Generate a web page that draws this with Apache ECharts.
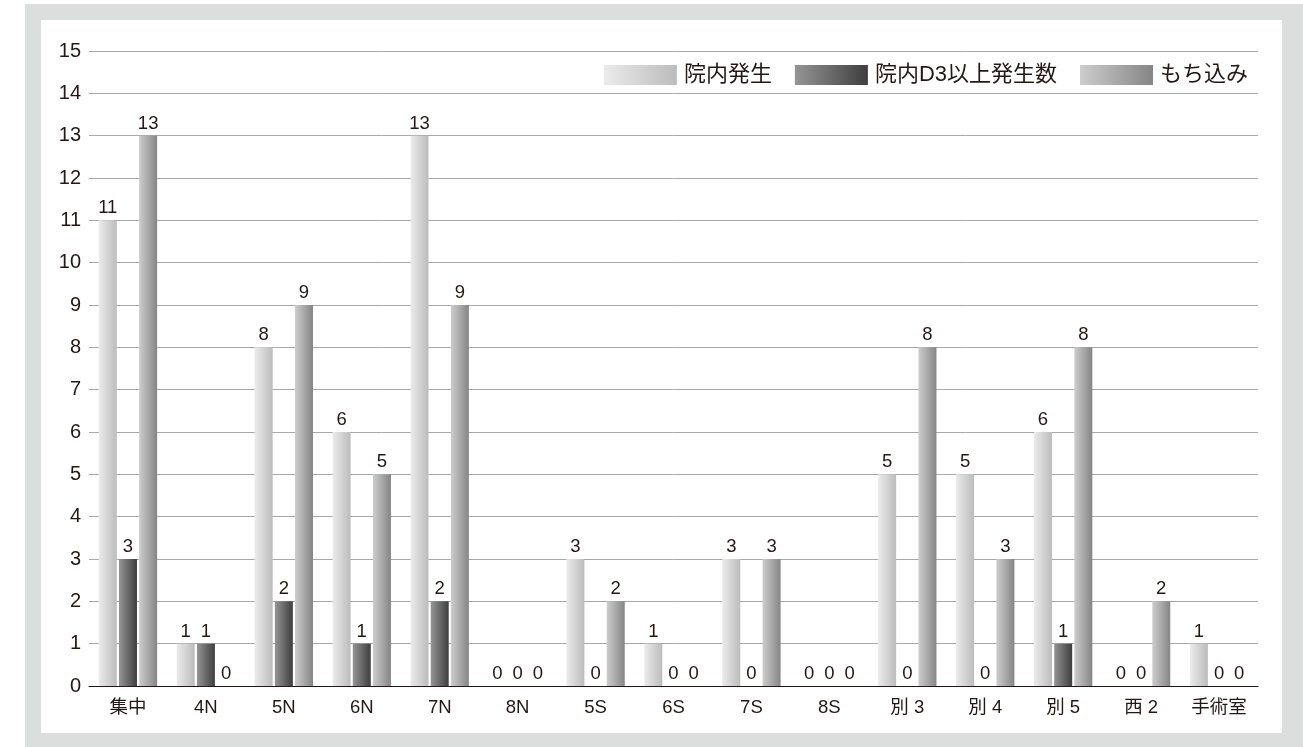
<!DOCTYPE html>
<html>
<head>
<meta charset="utf-8">
<script src="https://cdn.jsdelivr.net/npm/echarts@6/dist/echarts.min.js"></script>
<style>
  html, body { margin: 0; padding: 0; background: #ffffff; }
  #frame { position: absolute; left: 25px; top: 4px; width: 1278px; height: 743px; background: #dcdddd; }
  #panel { position: absolute; left: 16px; top: 16px; width: 1241px; height: 713px; background: #ffffff; }
  #chart { position: absolute; left: 0; top: 0; width: 1303px; height: 747px; }
</style>
</head>
<body>
<div id="frame"><div id="panel"></div></div>
<div id="chart"></div>
<script>
// Wards (x-axis categories)
const categories = ['集中', '4N', '5N', '6N', '7N', '8N', '5S', '6S', '7S', '8S', '別 3', '別 4', '別 5', '西 2', '手術室'];
// Counts per ward
const inHospital = [11, 1, 8, 6, 13, 0, 3, 1, 3, 0, 5, 5, 6, 0, 1];
const inHospitalD3 = [3, 1, 2, 1, 2, 0, 0, 0, 0, 0, 0, 0, 1, 0, 0];
const broughtIn = [13, 0, 9, 5, 9, 0, 2, 0, 3, 0, 8, 3, 8, 2, 0];
const seriesNames = ['院内発生', '院内D3以上発生数', 'もち込み'];
const yTicks = { min: 0, max: 15, interval: 1 };

const textColor = '#231815';
const fontFamily = "'Liberation Sans', 'Noto Sans CJK JP', sans-serif";

function hGrad(from, to) {
  return new echarts.graphic.LinearGradient(0, 0, 1, 0, [
    { offset: 0, color: from },
    { offset: 1, color: to }
  ]);
}

const fills = [
  hGrad('#ebebeb', '#bcbcbc'),
  hGrad('#959595', '#3e3e3e'),
  hGrad('#cdcdcd', '#858585')
];

const chart = echarts.init(document.getElementById('chart'), null, { renderer: 'canvas' });

const valueLabel = {
  show: true,
  position: 'top',
  distance: 3,
  color: textColor,
  fontSize: 18.5,
  fontFamily: fontFamily
};

function makeSeries(name, data, fill) {
  return {
    name: name,
    type: 'bar',
    data: data,
    barWidth: 18,
    barGap: '12%',
    itemStyle: { color: fill },
    label: valueLabel,
    emphasis: { disabled: true }
  };
}

chart.setOption({
  animation: false,
  backgroundColor: 'transparent',
  textStyle: { fontFamily: fontFamily, color: textColor },
  legend: {
    right: 55,
    top: 64,
    padding: 0,
    itemWidth: 73,
    itemHeight: 20,
    itemGap: 23,
    icon: 'rect',
    textStyle: { fontSize: 22, color: textColor, fontFamily: fontFamily, padding: [0, 0, 0, 2] },
    data: seriesNames
  },
  grid: { left: 89, right: 45, top: 51, bottom: 61, containLabel: false },
  xAxis: {
    type: 'category',
    data: categories,
    axisLine: { show: true, lineStyle: { color: '#231815', width: 1.2 } },
    axisTick: { show: false },
    axisLabel: { color: textColor, fontSize: 18.5, margin: 13, fontFamily: fontFamily }
  },
  yAxis: {
    type: 'value',
    min: yTicks.min,
    max: yTicks.max,
    interval: yTicks.interval,
    axisLine: { show: false },
    axisTick: { show: false },
    axisLabel: { color: textColor, fontSize: 20, margin: 8, fontFamily: fontFamily },
    splitLine: { show: true, lineStyle: { color: '#a8a8a8', width: 1 } }
  },
  series: [
    makeSeries(seriesNames[0], inHospital, fills[0]),
    makeSeries(seriesNames[1], inHospitalD3, fills[1]),
    makeSeries(seriesNames[2], broughtIn, fills[2])
  ]
});
</script>
</body>
</html>
